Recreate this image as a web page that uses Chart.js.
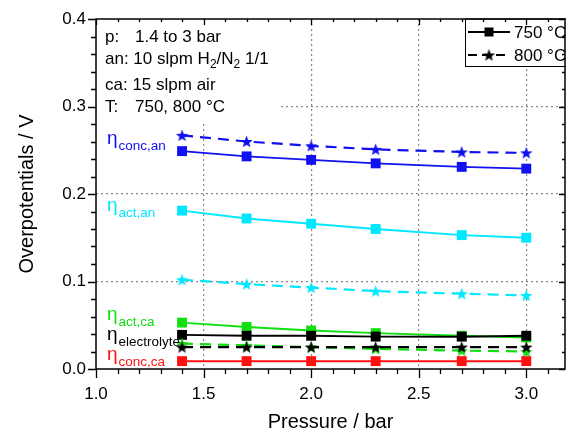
<!DOCTYPE html>
<html><head><meta charset="utf-8">
<script src="https://cdn.jsdelivr.net/npm/chart.js@4/dist/chart.umd.min.js"></script>
<style>html,body{margin:0;padding:0;background:#fff;overflow:hidden}</style>
</head><body>
<canvas id="c" width="566" height="434"></canvas>
<script>
// ---- data ----
const pressure = [1.4, 1.7, 2.0, 2.3, 2.7, 3.0];
const concAn750 = [0.249, 0.243, 0.239, 0.235, 0.231, 0.229];
const concAn800 = [0.267, 0.260, 0.255, 0.251, 0.248, 0.247];
const actAn750 = [0.181, 0.172, 0.166, 0.160, 0.153, 0.150];
const actAn800 = [0.102, 0.097, 0.093, 0.089, 0.086, 0.084];
const actCa750 = [0.053, 0.048, 0.044, 0.041, 0.038, 0.036];
const actCa800 = [0.029, 0.027, 0.025, 0.023, 0.021, 0.020];
const elec750 = [0.039, 0.038, 0.038, 0.037, 0.037, 0.038];
const elec800 = [0.025, 0.025, 0.025, 0.025, 0.025, 0.025];
const concCa750 = [0.009, 0.009, 0.009, 0.009, 0.009, 0.009];
const xTicks = [1.0, 1.5, 2.0, 2.5, 3.0];
const yTicks = [0.0, 0.1, 0.2, 0.3, 0.4];
const legendLabels = ['750 °C', '800 °C'];

const BLUE = '#1010f0', CYAN = '#00e8ff', GREEN = '#10e010', RED = '#ff1010', BLACK = '#000000';
const FONT = '"Liberation Sans", Arial, sans-serif';

function starImg(color, r) {
  const s = Math.ceil(r * 2 + 2);
  const cv = document.createElement('canvas');
  cv.width = s; cv.height = s;
  const g = cv.getContext('2d');
  g.fillStyle = color;
  g.beginPath();
  for (let i = 0; i < 10; i++) {
    const rr = i % 2 === 0 ? r : r * 0.42;
    const a = -Math.PI / 2 + i * Math.PI / 5;
    const x = s / 2 + rr * Math.cos(a), y = s / 2 + 0.6 + rr * Math.sin(a);
    if (i === 0) g.moveTo(x, y); else g.lineTo(x, y);
  }
  g.closePath(); g.fill();
  return cv;
}

function pts(arr) { return pressure.map((p, i) => ({x: p, y: arr[i]})); }
function solid(arr, color) {
  return {data: pts(arr), borderColor: color, backgroundColor: color, borderWidth: 2,
    pointStyle: 'rect', pointRadius: 7, pointHoverRadius: 7, pointBorderWidth: 0, tension: 0};
}
function dashed(arr, color) {
  return {data: pts(arr), borderColor: color, backgroundColor: color, borderWidth: 2.2,
    borderDash: [11, 7], pointStyle: starImg(color, 6.5), pointRadius: 6, tension: 0};
}

const datasets = [
  solid(concCa750, RED),
  dashed(elec800, BLACK),
  dashed(actCa800, GREEN),
  solid(elec750, BLACK),
  solid(actCa750, GREEN),
  dashed(actAn800, CYAN),
  solid(actAn750, CYAN),
  solid(concAn750, BLUE),
  dashed(concAn800, BLUE)
];

const decor = {
  id: 'decor',
  beforeDatasetsDraw(chart) {
    const ctx = chart.ctx, a = chart.chartArea;
    ctx.save();
    ctx.fillStyle = '#fff';
    ctx.fillRect(a.left + 1, a.top + 1, 278 - a.left, 120 - a.top);
    ctx.fillRect(465, a.top, 110, 48);
    ctx.restore();
  },
  afterDraw(chart) {
    const ctx = chart.ctx, a = chart.chartArea;
    const xs = chart.scales.x, ys = chart.scales.y;
    ctx.save();
    ctx.strokeStyle = '#000';
    ctx.lineWidth = 1.5;
    ctx.strokeRect(a.left, a.top, a.right - a.left, a.bottom - a.top);
    ctx.lineWidth = 1.3;
    ctx.beginPath();
    // x ticks
    for (let k = 0; k <= 21; k++) {
      const v = 1.0 + k * 0.1;
      const px = Math.round(xs.getPixelForValue(v)) + 0.5;
      const major = k % 5 === 0;
      ctx.moveTo(px, a.bottom); ctx.lineTo(px, a.bottom + (major ? 9 : 5));
      ctx.moveTo(px, a.top); ctx.lineTo(px, a.top + (major ? 6 : 3));
    }
    for (let k = 0; k <= 20; k++) {
      const v = k * 0.02;
      const py = Math.round(ys.getPixelForValue(v)) + 0.5;
      const major = k % 5 === 0;
      ctx.moveTo(a.left, py); ctx.lineTo(a.left - (major ? 8 : 5), py);
      ctx.moveTo(a.right, py); ctx.lineTo(a.right - (major ? 6 : 3), py);
    }
    ctx.stroke();

    // info text
    ctx.fillStyle = '#000';
    ctx.textBaseline = 'middle';
    ctx.font = '17px ' + FONT;
    ctx.fillText('p:', 105, 37);
    ctx.fillText('1.4 to 3 bar', 135, 37);
    let x = 105;
    const seg = (t, size, dy) => { ctx.font = size + 'px ' + FONT; ctx.fillText(t, x, 59 + dy); x += ctx.measureText(t).width; };
    seg('an: 10 slpm H', 17, 0); seg('2', 12, 6); seg('/N', 17, 0); seg('2', 12, 6); seg(' 1/1', 17, 0);
    ctx.font = '17px ' + FONT;
    ctx.fillText('ca: 15 slpm air', 105, 85);
    ctx.fillText('T:', 105, 107);
    ctx.fillText('750, 800 °C', 135, 107);

    // eta labels
    const eta = (sub, color, ex, ey) => {
      ctx.fillStyle = color;
      ctx.font = '19px ' + FONT;
      ctx.fillText('\u03b7', ex, ey);
      const w = ctx.measureText('\u03b7').width;
      ctx.font = '13.5px ' + FONT;
      ctx.fillText(sub, ex + w + 1, ey + 7);
    };
    eta('conc,an', BLUE, 107, 139);
    eta('act,an', CYAN, 107, 206);
    eta('act,ca', GREEN, 107, 315);
    eta('electrolyte', BLACK, 107, 335);
    eta('conc,ca', RED, 107, 355);

    // legend
    ctx.strokeStyle = '#000';
    ctx.lineWidth = 1;
    ctx.strokeRect(465.5, a.top, 110, 47.5);
    ctx.lineWidth = 2;
    ctx.beginPath(); ctx.moveTo(468, 32); ctx.lineTo(510, 32); ctx.stroke();
    ctx.fillStyle = '#000';
    ctx.fillRect(484.5, 27.5, 9, 9);
    ctx.setLineDash([9, 5]);
    ctx.beginPath(); ctx.moveTo(468, 55); ctx.lineTo(510, 55); ctx.stroke();
    ctx.setLineDash([]);
    const st = starImg('#000', 6.5);
    ctx.drawImage(st, 489 - st.width / 2, 55 - st.height / 2);
    ctx.font = '17px ' + FONT;
    ctx.fillText(legendLabels[0], 514, 33);
    ctx.fillText(legendLabels[1], 514, 56);
    ctx.restore();
  }
};

new Chart(document.getElementById('c'), {
  type: 'line',
  data: {datasets},
  options: {
    responsive: false,
    animation: false,
    events: [],
    layout: {autoPadding: false, padding: {top: 19, right: 1, left: 0, bottom: 0}},
    plugins: {legend: {display: false}, tooltip: {enabled: false}},
    scales: {
      x: {
        type: 'linear', min: 1.0, max: 3.18,
        afterFit(s) { s.height = 65; s.paddingRight = 0; s.paddingLeft = 0; },
        afterBuildTicks(s) { s.ticks = xTicks.map(v => ({value: v})); },
        ticks: {callback: v => v.toFixed(1), color: '#000', font: {size: 17, family: FONT}, padding: 15, maxRotation: 0},
        grid: {drawTicks: false, color: c => (c.tick && c.tick.value > 1.0) ? '#888' : 'rgba(0,0,0,0)', lineWidth: 1.2},
        border: {display: false, dash: [2, 3]},
        title: {display: true, text: 'Pressure / bar', color: '#000', font: {size: 20, family: FONT}, padding: {top: 10, bottom: 0}}
      },
      y: {
        type: 'linear', min: 0, max: 0.4,
        afterFit(s) { s.width = 96; s.paddingTop = 0; s.paddingBottom = 0; },
        afterBuildTicks(s) { s.ticks = yTicks.map(v => ({value: v})); },
        ticks: {callback: v => v.toFixed(1), color: '#000', font: {size: 17, family: FONT}, padding: 10},
        grid: {drawTicks: false, color: c => (c.tick && c.tick.value > 0.001 && c.tick.value < 0.399) ? '#888' : 'rgba(0,0,0,0)', lineWidth: 1.2},
        border: {display: false, dash: [2, 3]},
        title: {display: true, text: 'Overpotentials / V', color: '#000', font: {size: 20, family: FONT}, padding: {top: 15, bottom: 8}}
      }
    }
  },
  plugins: [decor]
});
</script>
</body></html>
